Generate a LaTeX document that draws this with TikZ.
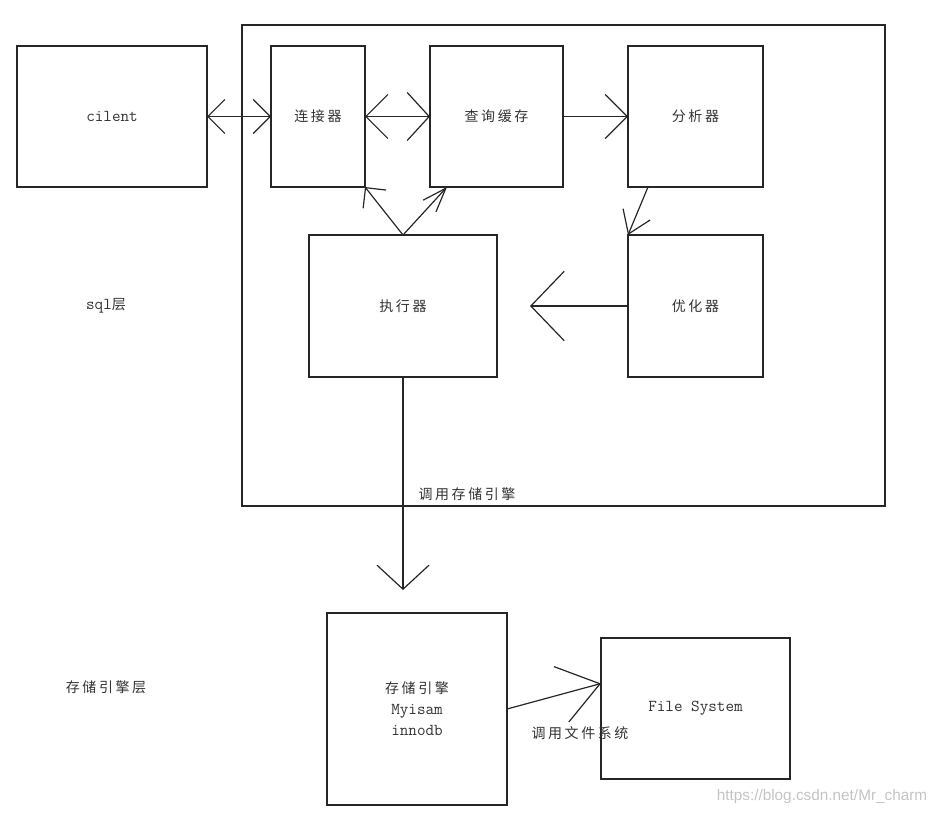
\documentclass[tikz,border=0pt]{standalone}
\usepackage{fontspec}
\newfontfamily\cjk[LetterSpace=18]{Noto Sans CJK SC}
\newfontfamily\wmfont{Liberation Sans}
\usepackage{xcolor}
\definecolor{diaLine}{HTML}{262626}
\definecolor{diaText}{HTML}{333333}
\definecolor{markGray}{HTML}{C4C4C4}
\usetikzlibrary{arrows.meta,calc}
\tikzset{
    box/.style={
        draw=diaLine,
        rectangle,
        line width=0.9pt,
        inner sep=0pt,
        outer sep=0pt,
        align=center,
        text=diaText,
        font=\ttfamily\fontsize{12.5}{15.75}\selectfont
    },
    label/.style={
        text=diaText,
        inner sep=0pt,
        font=\ttfamily\fontsize{12.5}{15.75}\selectfont
    },
    arrow/.style={
        -{Straight Barb[length=16.5pt,width=33pt]},
        line width=0.9pt,
        color=diaLine
    },
    twoway/.style={
        {Straight Barb[length=12.75pt,width=25.5pt]}-{Straight Barb[length=12.75pt,width=25.5pt]},
        line width=0.9pt,
        color=diaLine
    },
    bigarrow/.style={
        -{Straight Barb[length=25pt,width=52pt]},
        line width=0.9pt,
        color=diaLine
    }
}

\begin{document}
\begin{tikzpicture}[x=0.75pt,y=-0.75pt]
    \useasboundingbox (0,0) rectangle (941,817);

    % sql layer frame
    \draw[diaLine, line width=0.9pt] (242,25) rectangle (885,506);

    % boxes
    \node[box, minimum width=142.5pt, minimum height=105.75pt] (client) at (112,116.5) {cilent};
    \node[box, minimum width=70.5pt, minimum height=105.75pt] (conn) at (318,116.5) {\cjk\fontsize{10.5}{15.75}\selectfont 连接器};
    \node[box, minimum width=99.75pt, minimum height=105.75pt] (cache) at (496.5,116.5) {\cjk\fontsize{10.5}{15.75}\selectfont 查询缓存};
    \node[box, minimum width=101.25pt, minimum height=105.75pt] (parser) at (695.5,116.5) {\cjk\fontsize{10.5}{15.75}\selectfont 分析器};
    \node[box, minimum width=141pt, minimum height=106.5pt] (exec) at (403,306) {\cjk\fontsize{10.5}{15.75}\selectfont 执行器};
    \node[box, minimum width=101.25pt, minimum height=106.5pt] (optim) at (695.5,306) {\cjk\fontsize{10.5}{15.75}\selectfont 优化器};
    \node[box, minimum width=135pt, minimum height=144pt] (engine) at (417,709) {{\cjk\fontsize{10.5}{15.75}\selectfont 存储引擎}\\Myisam\\innodb};
    \node[box, minimum width=141.75pt, minimum height=105.75pt] (fs) at (695.5,708.5) {File System};

    % layer names
    \node[label] (sqllayer) at (106,306) {sql{\cjk\fontsize{10.5}{15.75}\selectfont 层}};
    \node[label, font=\cjk\fontsize{10.5}{15.75}\selectfont] (enginelayer) at (106,687) {存储引擎层};

    % connectors
    \draw[twoway] (client.east) -- (conn.west);
    \draw[{Straight Barb[length=16.5pt,width=33pt]}-{Straight Barb[length=16.5pt,width=36pt]}, line width=0.9pt, diaLine] (conn.east) -- (cache.west);
    \draw[arrow] (cache.east) -- (parser.west);
    \draw[-{Straight Barb[length=16pt,width=22pt]}, line width=0.9pt, diaLine] ($(parser.south west)+(20,0)$) -- (optim.north west);
    \draw[bigarrow] (optim.west) -- ($(exec.east)+(33,0)$);
    \draw[-{Straight Barb[length=11pt,width=22pt]}, line width=0.9pt, diaLine] (exec.north) -- (conn.south east);
    \draw[-{Straight Barb[length=18pt,width=13pt]}, line width=0.9pt, diaLine] (exec.north) -- ($(cache.south west)+(17,0)$);
    \draw[-{Straight Barb[length=18pt,width=39pt]}, line width=0.9pt, diaLine] (exec.south) -- ($(engine.north)+(-14,-23)$);
    \draw[-{Straight Barb[length=30pt,width=43pt]}, line width=0.9pt, diaLine] (engine.east) -- ($(fs.west)+(0,-25)$);

    % connector labels
    \node[label, font=\cjk\fontsize{10.5}{15.75}\selectfont] (callengine) at (467,494) {调用存储引擎};
    \node[label, font=\cjk\fontsize{10.5}{15.75}\selectfont] (callfs) at (580,733) {调用文件系统};

    \node[text=markGray, inner sep=0pt, font=\wmfont\fontsize{11.5}{12}\selectfont] (mark) at (822,797) {https://blog.csdn.net/Mr\_charm};
\end{tikzpicture}
\end{document}
